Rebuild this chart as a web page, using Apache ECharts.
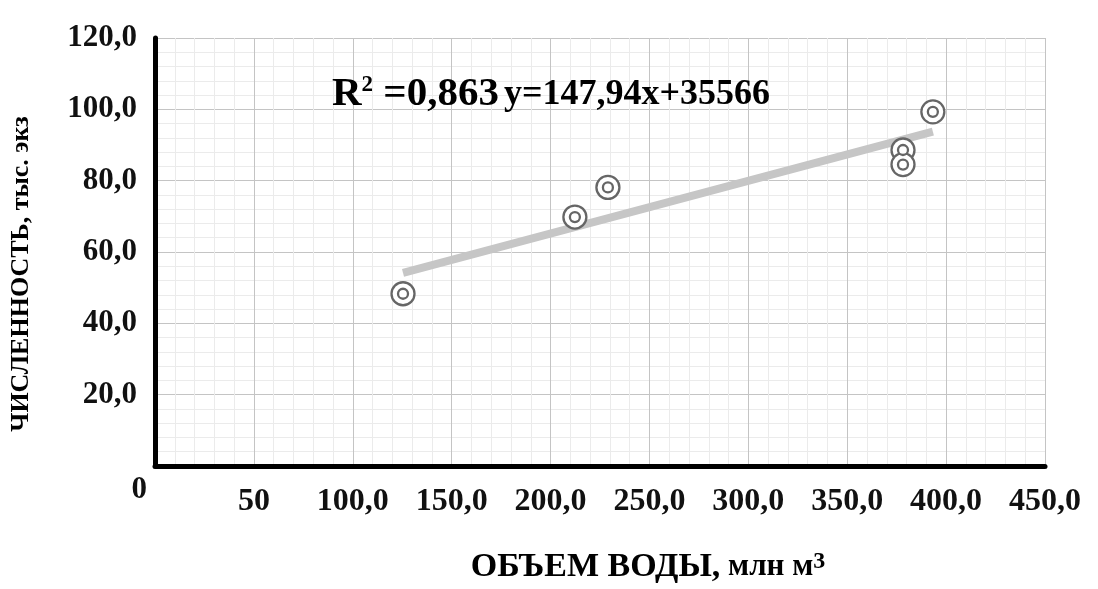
<!DOCTYPE html>
<html>
<head>
<meta charset="utf-8">
<script src="https://cdn.jsdelivr.net/npm/echarts@6/dist/echarts.min.js"></script>
<style>
  html, body { margin: 0; padding: 0; background: #fff; }
  #chart { width: 1098px; height: 589px; }
</style>
</head>
<body>
<div id="chart"></div>
<script>
// Water volume (million m3) and population (thousand individuals)
const volume = [125.4, 212.3, 229.0, 378.2, 378.2, 393.3];
const abundance = [48.3, 69.8, 78.1, 88.6, 84.5, 99.3];

// Tick labels as printed on the axes
const xTickLabels = ['', '50', '100,0', '150,0', '200,0', '250,0', '300,0', '350,0', '400,0', '450,0'];
const yTickLabels = ['0', '20,0', '40,0', '60,0', '80,0', '100,0', '120,0'];

// Linear trend: individuals = slope * volume + intercept
const trendSlope = 147.94;
const trendIntercept = 35566;
const rSquared = '0,863';
const trendText = 'y=147,94x+35566';

const FONT = 'Liberation Serif';

// Trend spans the observed volume range, converted to thousands
const xLo = Math.min(...volume), xHi = Math.max(...volume);
const trendLine = [xLo, xHi].map(x => [x, (trendSlope * x + trendIntercept) / 1000]);
const points = volume.map((v, i) => [v, abundance[i]]);

const bold = (size, extra) => Object.assign(
  { fontFamily: FONT, fontWeight: 'bold', fontSize: size, color: '#000' }, extra || {});

const chart = echarts.init(document.getElementById('chart'));
chart.setOption({
  animation: false,
  backgroundColor: '#fff',
  grid: { left: 155, right: 53, top: 38, bottom: 104.5, containLabel: false },
  title: {
    left: 327, top: 69,
    text: '{r|R}{s|2}{r| =' + rSquared + '} {e|' + trendText + '}',
    textStyle: {
      rich: {
        r: bold(41),
        s: bold(23, { verticalAlign: 'top' }),
        e: bold(36)
      }
    }
  },
  xAxis: {
    type: 'value', min: 0, max: 450, interval: 50,
    name: '{a|ОБЪЕМ ВОДЫ,}{b| млн м}{c|3}',
    nameLocation: 'middle', nameGap: 84,
    nameTextStyle: {
      padding: [0, 0, 0, 96],
      rich: {
        a: bold(34),
        b: bold(31),
        c: bold(24, { verticalAlign: 'top' })
      }
    },
    axisLine: { show: true, lineStyle: { color: '#000', width: 5 } },
    axisTick: { show: false },
    axisLabel: Object.assign(bold(32, { color: '#111' }), {
      margin: 20,
      formatter: v => xTickLabels[Math.round(v / 50)]
    }),
    splitLine: { show: true, lineStyle: { color: '#c4c4c4', width: 1 } },
    minorTick: { show: false, splitNumber: 5 },
    minorSplitLine: { show: true, lineStyle: { color: '#ebebeb', width: 1 } }
  },
  yAxis: {
    type: 'value', min: 0, max: 120, interval: 20,
    name: 'ЧИСЛЕННОСТЬ, тыс. экз',
    nameLocation: 'middle', nameGap: 121, nameRotate: 90,
    nameTextStyle: bold(26, { padding: [0, 44, 0, 0] }),
    axisLine: { show: true, lineStyle: { color: '#000', width: 5 } },
    axisTick: { show: false },
    axisLabel: Object.assign(bold(31, { color: '#111' }), {
      margin: 18,
      formatter: v => {
        const t = yTickLabels[Math.round(v / 20)];
        return v === 0 ? '{z|' + t + '}' : t;
      },
      rich: {
        z: bold(31, { color: '#111', padding: [48, -10, 0, 0] })
      }
    }),
    splitLine: { show: true, lineStyle: { color: '#c4c4c4', width: 1 } },
    minorTick: { show: false, splitNumber: 5 },
    minorSplitLine: { show: true, lineStyle: { color: '#ebebeb', width: 1 } }
  },
  series: [
    {
      name: 'trend', type: 'line', data: trendLine, symbol: 'none', z: 2,
      lineStyle: { color: '#c6c6c6', width: 8, cap: 'butt' },
      silent: true
    },
    {
      name: 'outer', type: 'scatter', data: points, symbol: 'circle', symbolSize: 23, z: 3,
      itemStyle: { color: '#fff', borderColor: '#666', borderWidth: 2.3, opacity: 1 }
    },
    {
      name: 'inner', type: 'scatter', data: points, symbol: 'circle', symbolSize: 10, z: 4,
      itemStyle: { color: '#fff', borderColor: '#666', borderWidth: 2.3, opacity: 1 }
    }
  ]
});
</script>
</body>
</html>
